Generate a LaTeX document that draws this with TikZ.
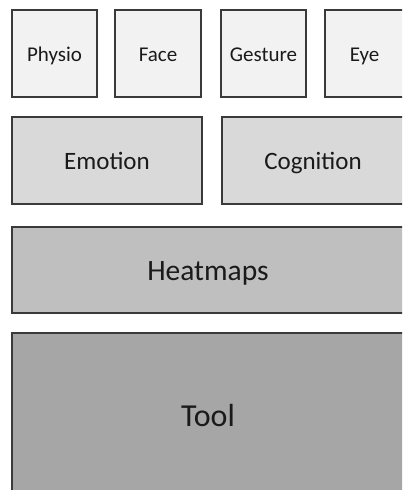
\documentclass[tikz,border=0pt]{standalone}
\usepackage{fontspec}
\setmainfont{Carlito}
\definecolor{fillA}{HTML}{F2F2F2}
\definecolor{fillB}{HTML}{D9D9D9}
\definecolor{fillC}{HTML}{BFBFBF}
\definecolor{fillD}{HTML}{A6A6A6}
\definecolor{edge}{HTML}{3A3A3A}
\definecolor{ink}{HTML}{1A1A1A}
\begin{document}
\begin{tikzpicture}[x=1pt,y=-1pt,
  layer/.style={draw=edge, line width=1.2pt, text=ink, inner sep=0pt, text depth=0pt},
  sensor/.style={layer, fill=fillA, minimum height=87pt, text height=15.1pt, font=\fontsize{21}{25}\selectfont},
  state/.style={layer, fill=fillB, minimum height=87pt, text height=18pt, font=\fontsize{25}{30}\selectfont},
  maps/.style={layer, fill=fillC, minimum height=86pt, minimum width=392pt, text height=20.9pt, font=\fontsize{29.5}{34}\selectfont},
  app/.style={layer, fill=fillD, minimum height=163pt, minimum width=392pt, text height=23pt, font=\fontsize{32}{38}\selectfont}]
\useasboundingbox (0,0) rectangle (402,490);
\clip (0,0) rectangle (402,490);
% input modalities
\node[sensor, minimum width=85pt] (physio)  at (54.5,53.5)  {Physio};
\node[sensor, minimum width=86pt] (face)    at (158,53.5)   {Face};
\node[sensor, minimum width=85pt] (gesture) at (263.5,53.5) {Gesture};
\node[sensor, minimum width=79pt] (eye)     at (364.5,53.5) {Eye};
% inferred states
\node[state, minimum width=190pt] (emotion)   at (107,160.5) {Emotion};
\node[state, minimum width=182pt] (cognition) at (313,160.5) {Cognition};
% visualisation and application layers
\node[maps] (heatmaps) at (208,270) {Heatmaps};
\node[app]  (tool)     at (208,414.5) {Tool};
\end{tikzpicture}
\end{document}
